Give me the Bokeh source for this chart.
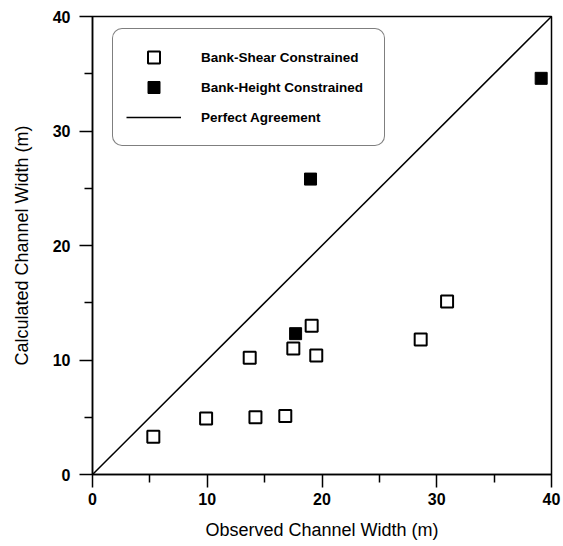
from bokeh.plotting import figure
from bokeh.models import Range1d, Legend, LegendItem, FixedTicker
from bokeh.embed import file_html
from bokeh.resources import INLINE

# Data
shear_x = [5.3, 9.9, 13.7, 14.2, 16.8, 17.5, 19.1, 19.5, 28.6, 30.9]
shear_y = [3.3, 4.9, 10.2, 5.0, 5.1, 11.0, 13.0, 10.4, 11.8, 15.1]
height_x = [17.7, 19.0, 39.1]
height_y = [12.3, 25.8, 34.6]
line_x = [0, 40]
line_y = [0, 40]
ticks = [0, 10, 20, 30, 40]
minor = [5, 15, 25, 35]

FONT = "Liberation Sans"

p = figure(width=563, height=546, output_backend="svg", toolbar_location=None,
           x_range=Range1d(0, 40), y_range=Range1d(0, 40))
p.min_border_left = 92
p.min_border_right = 12
p.min_border_top = 16
p.min_border_bottom = 72
p.background_fill_color = "white"
p.border_fill_color = "white"
p.outline_line_color = "black"
p.outline_line_width = 1.5
p.grid.visible = False

for ax in (p.xaxis[0], p.yaxis[0]):
    ax.ticker = FixedTicker(ticks=ticks, minor_ticks=minor)
    ax.axis_line_color = "black"
    ax.axis_line_width = 1.5
    ax.major_tick_line_width = 1.5
    ax.minor_tick_line_width = 1.5
    ax.major_tick_out = 13
    ax.major_tick_in = 0
    ax.minor_tick_out = 8
    ax.minor_tick_in = 0
    ax.major_label_text_font = FONT
    ax.major_label_text_font_size = "16px"
    ax.major_label_text_font_style = "bold"
    ax.major_label_text_color = "black"
    ax.axis_label_text_font = FONT
    ax.axis_label_text_font_size = "18px"
    ax.axis_label_text_font_style = "normal"
    ax.axis_label_text_color = "black"

p.xaxis.axis_label = "Observed Channel Width (m)"
p.yaxis.axis_label = "Calculated Channel Width (m)"
p.xaxis.major_label_standoff = 5
p.yaxis.major_label_standoff = 9
p.xaxis.axis_label_standoff = 12
p.yaxis.axis_label_standoff = 18

r_line = p.line(line_x, line_y, line_color="black", line_width=1.5)
r_shear = p.scatter(shear_x, shear_y, marker="square", size=12,
                    fill_color="white", line_color="black", line_width=2)
r_height = p.scatter(height_x, height_y, marker="square", size=12,
                     fill_color="black", line_color="black", line_width=1)

legend = Legend(items=[
    LegendItem(label="Bank-Shear Constrained", renderers=[r_shear]),
    LegendItem(label="Bank-Height Constrained", renderers=[r_height]),
    LegendItem(label="Perfect Agreement", renderers=[r_line]),
], location=(20, 328))
legend.label_text_font = FONT
legend.label_text_font_size = "13.5px"
legend.label_text_font_style = "bold"
legend.label_text_color = "black"
legend.glyph_width = 55
legend.glyph_height = 30
legend.label_height = 30
legend.spacing = 0
legend.label_standoff = 20
legend.label_width = 170
legend.padding = 13
legend.margin = 0
legend.border_line_color = "black"
legend.border_line_width = 1.5
legend.background_fill_alpha = 1
if "border_radius" in Legend.properties():
    legend.border_radius = 10
p.add_layout(legend, "center")

open("out.html", "w").write(file_html(p, INLINE))
